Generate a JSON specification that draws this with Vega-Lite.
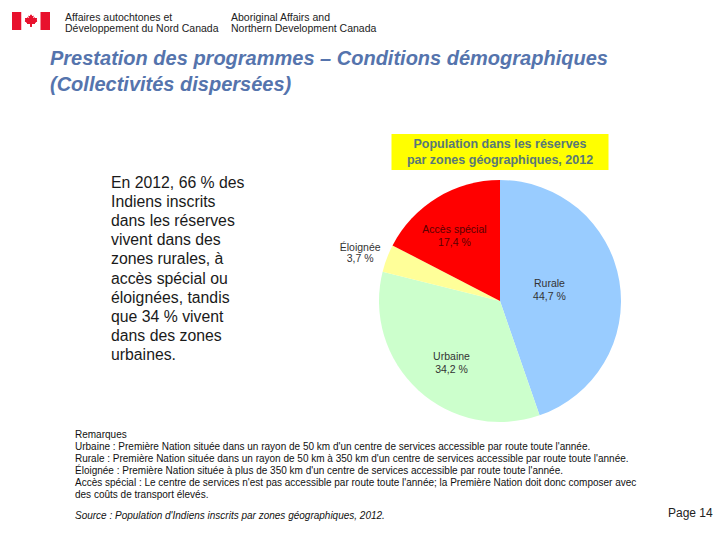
{
  "$schema": "https://vega.github.io/schema/vega-lite/v6.json",
  "background": "white",
  "padding": {"left": 12, "top": 12, "right": 0, "bottom": 0},
  "spacing": 0,
  "resolve": {"scale": {"color": "independent"}},
  "config": {
    "view": {"stroke": null},
    "font": "Liberation Sans",
    "title": {"anchor": "start", "frame": "group", "orient": "bottom", "offset": 0.01, "fontWeight": "normal"}
  },
  "vconcat": [
    {
      "hconcat": [
        {
          "width": 38,
          "height": 18,
          "data": {"values": [{"bande": "1"}, {"bande": "2"}, {"bande": "3"}, {"bande": "4"}]},
          "layer": [
            {
              "mark": {"type": "bar"},
              "encoding": {
                "x": {"field": "bande", "type": "nominal", "axis": null, "scale": {"paddingInner": 0, "paddingOuter": 0}},
                "color": {"field": "bande", "type": "nominal", "legend": null, "scale": {"range": ["#e8112d", "#ffffff", "#ffffff", "#e8112d"]}}
              }
            },
            {
              "mark": {"type": "point", "filled": true, "opacity": 1, "color": "#e8112d", "size": 170, "shape": "M0,-1 L0.15,-0.7 L0.35,-0.8 L0.3,-0.35 L0.55,-0.55 L0.6,-0.4 L0.9,-0.45 L0.8,-0.1 L0.95,0 L0.55,0.3 L0.62,0.45 L0.1,0.38 L0.1,0.9 L-0.1,0.9 L-0.1,0.38 L-0.62,0.45 L-0.55,0.3 L-0.95,0 L-0.8,-0.1 L-0.9,-0.45 L-0.6,-0.4 L-0.55,-0.55 L-0.3,-0.35 L-0.35,-0.8 L-0.15,-0.7 Z"},
              "encoding": {}
            }
          ]
        },
        {"width": 15, "height": 1, "data": {"values": []}, "mark": {"type": "point"}},
        {
          "width": 166,
          "height": 1,
          "data": {"values": []},
          "mark": {"type": "point"},
          "title": {"text": ["Affaires autochtones et", "Développement du Nord Canada"], "offset": 0.01, "fontSize": 10.5, "lineHeight": 10.5, "color": "#222222"}
        },
        {
          "width": 150,
          "height": 1,
          "data": {"values": []},
          "mark": {"type": "point"},
          "title": {"text": ["Aboriginal Affairs and", "Northern Development Canada"], "offset": 0.01, "fontSize": 10.5, "lineHeight": 10.5, "color": "#222222"}
        }
      ],
      "spacing": 0
    },
    {
      "hconcat": [
        {"width": 38, "height": 1, "data": {"values": []}, "mark": {"type": "point"}},
        {
          "width": 620,
          "height": 13.5,
          "data": {"values": []},
          "mark": {"type": "point"},
          "title": {"text": ["Prestation des programmes – Conditions démographiques", "(Collectivités dispersées)"], "offset": 0.01, "fontSize": 20, "fontStyle": "italic", "fontWeight": "bold", "color": "#5574ad", "lineHeight": 26}
        }
      ],
      "spacing": 0
    },
    {
      "hconcat": [
        {"width": 99, "height": 1, "data": {"values": []}, "mark": {"type": "point"}},
        {
          "width": 217.5,
          "height": 80.5,
          "data": {"values": []},
          "mark": {"type": "point"},
          "title": {"text": ["En 2012, 66 % des", "Indiens inscrits", "dans les réserves", "vivent dans des", "zones rurales, à", "accès spécial ou", "éloignées, tandis", "que 34 % vivent", "dans des zones", "urbaines."], "offset": 0.01, "fontSize": 15.8, "lineHeight": 19.2, "color": "#1a1a1a"}
        },
        {
          "vconcat": [
            {"width": 1, "height": 38.5, "data": {"values": []}, "mark": {"type": "point"}},
            {
              "width": 217,
              "height": 36,
              "view": {"fill": "#ffff00", "stroke": null},
              "data": {"values": [{"titre": "Population dans les réserves\npar zones géographiques, 2012"}]},
              "mark": {"type": "text", "align": "center", "baseline": "line-bottom", "fontSize": 12.5, "fontWeight": "bold", "color": "#587878", "lineHeight": 16, "lineBreak": "\n"},
              "encoding": {"text": {"field": "titre", "type": "nominal"}}
            },
            {"width": 1, "height": 3, "data": {"values": []}, "mark": {"type": "point"}},
            {
              "width": 342,
              "height": 256,
              "data": {
                "values": [
                  {"zone": "Rurale", "part": 44.7, "rang": 1, "etiquette": "Rurale\n44,7 %"},
                  {"zone": "Urbaine", "part": 34.2, "rang": 2, "etiquette": "Urbaine\n34,2 %"},
                  {"zone": "Éloignée", "part": 3.7, "rang": 3, "etiquette": "Éloignée\n3,7 %"},
                  {"zone": "Accès spécial", "part": 17.4, "rang": 4, "etiquette": "Accès spécial\n17,4 %"}
                ]
              },
              "encoding": {
                "theta": {"field": "part", "type": "quantitative", "stack": true},
                "order": {"field": "rang", "type": "quantitative"}
              },
              "layer": [
                {
                  "mark": {"type": "arc", "outerRadius": 121},
                  "encoding": {
                    "color": {"field": "zone", "type": "nominal", "legend": null, "scale": {"domain": ["Rurale", "Urbaine", "Éloignée", "Accès spécial"], "range": ["#99ccff", "#ccffcc", "#ffff99", "#ff0000"]}}
                  }
                },
                {
                  "mark": {"type": "text", "radius": 52.3, "thetaOffset": -0.166, "fontSize": 10.5, "color": "#333333", "lineBreak": "\n", "lineHeight": 13.3, "align": "center", "baseline": "middle"},
                  "encoding": {
                    "detail": {"field": "zone", "type": "nominal"},
                    "text": {"condition": {"test": "datum.zone === 'Rurale'", "field": "etiquette", "type": "nominal"}, "value": ""}
                  }
                },
                {
                  "mark": {"type": "text", "radius": 74.1, "thetaOffset": -0.028, "fontSize": 10.5, "color": "#333333", "lineBreak": "\n", "lineHeight": 13.3, "align": "center", "baseline": "middle"},
                  "encoding": {
                    "detail": {"field": "zone", "type": "nominal"},
                    "text": {"condition": {"test": "datum.zone === 'Urbaine'", "field": "etiquette", "type": "nominal"}, "value": ""}
                  }
                },
                {
                  "mark": {"type": "text", "radius": 84.3, "thetaOffset": -0.024, "fontSize": 10.5, "color": "#5a0000", "lineBreak": "\n", "lineHeight": 13.3, "align": "center", "baseline": "middle"},
                  "encoding": {
                    "detail": {"field": "zone", "type": "nominal"},
                    "text": {"condition": {"test": "datum.zone === 'Accès spécial'", "field": "etiquette", "type": "nominal"}, "value": ""}
                  }
                },
                {
                  "mark": {"type": "text", "radius": 149.5, "color": "#333333", "lineBreak": "\n", "lineHeight": 11.3, "align": "center", "baseline": "middle"},
                  "encoding": {
                    "detail": {"field": "zone", "type": "nominal"},
                    "size": {"condition": {"test": "datum.zone === 'Éloignée'", "value": 10.5}, "value": 0},
                    "text": {"condition": {"test": "datum.zone === 'Éloignée'", "field": "etiquette", "type": "nominal"}, "value": ""}
                  }
                }
              ]
            }
          ],
          "spacing": 0,
          "center": true
        }
      ],
      "spacing": 0
    },
    {
      "hconcat": [
        {"width": 63, "height": 1, "data": {"values": []}, "mark": {"type": "point"}},
        {
          "width": 593,
          "height": 0.7,
          "data": {"values": []},
          "mark": {"type": "point"},
          "title": {
            "text": [
              "Remarques",
              "Urbaine : Première Nation située dans un rayon de 50 km d'un centre de services accessible par route toute l'année.",
              "Rurale : Première Nation située dans un rayon de 50 km à 350 km d'un centre de services accessible par route toute l'année.",
              "Éloignée : Première Nation située à plus de 350 km d'un centre de services accessible par route toute l'année.",
              "Accès spécial : Le centre de services n'est pas accessible par route toute l'année; la Première Nation doit donc composer avec",
              "des coûts de transport élevés."
            ],
            "offset": 0.01,
            "fontSize": 10,
            "lineHeight": 12,
            "color": "#111111",
            "subtitle": "Source : Population d'Indiens inscrits par zones géographiques, 2012.",
            "subtitleFontSize": 10,
            "subtitleFontStyle": "italic",
            "subtitleColor": "#111111",
            "subtitlePadding": 11
          }
        },
        {
          "width": 50,
          "height": 78.8,
          "data": {"values": []},
          "mark": {"type": "point"},
          "title": {"text": "Page 14", "offset": 0.01, "fontSize": 12, "color": "#222222"}
        }
      ],
      "spacing": 0
    }
  ]
}
